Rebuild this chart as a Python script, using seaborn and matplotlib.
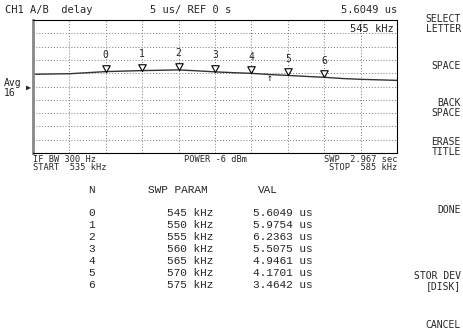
import numpy as np
import pandas as pd
import matplotlib
matplotlib.use("Agg")
import matplotlib.pyplot as plt
from matplotlib.path import Path as MPath
import seaborn as sns

# trace (kHz, us)
trace_freq = [535, 537.5, 540, 542.5, 545, 547.5, 550, 552.5, 555, 557.5, 560,
              562.5, 565, 567.5, 570, 572.5, 575, 577.5, 580, 582.5, 585]
trace_delay = [4.6, 4.7, 4.8, 5.2, 5.6, 5.8, 5.98, 6.1, 6.24, 5.9, 5.5,
               5.2, 4.95, 4.5, 4.17, 3.8, 3.46, 3.0, 2.7, 2.5, 2.3]

marker_ids = ["0", "1", "2", "3", "4", "5", "6"]
marker_freq = [545, 550, 555, 560, 565, 570, 575]
marker_delay = [5.6049, 5.9754, 6.2363, 5.5075, 4.9461, 4.1701, 3.4642]

softkeys = ["SELECT\nLETTER", "SPACE", "BACK\nSPACE", "ERASE\nTITLE", "DONE", "STOR DEV\n[DISK]", "CANCEL"]
softkey_y = [24, 66, 108, 147, 210, 281, 325]

W, H = 463, 335
MONO = "DejaVu Sans Mono"
TABLE = "Liberation Mono"


def px(x, y):
    return x / W, 1 - y / H


def main() -> None:
    sns.set_style("white")
    plt.rcParams["font.family"] = [MONO]

    fig = plt.figure(figsize=(W / 100, H / 100), dpi=100)
    ax = fig.add_axes([33 / W, 1 - 153 / H, 364 / W, 133 / H])

    df = pd.DataFrame({"freq": trace_freq, "delay": trace_delay})
    sns.lineplot(data=df, x="freq", y="delay", ax=ax, color="#333333", linewidth=1.0)

    # downward triangle with its tip on the data point
    tri = MPath([(0, 0), (-0.55, 1.0), (0.55, 1.0), (0, 0)], [1, 2, 2, 79])
    mk = pd.DataFrame({"freq": marker_freq, "delay": marker_delay})
    sns.scatterplot(data=mk, x="freq", y="delay", ax=ax, marker=tri, s=95,
                    facecolor="white", edgecolor="black", linewidth=0.8, zorder=5)
    for m, f, d in zip(marker_ids, marker_freq, marker_delay):
        ax.annotate(m, (f, d), xytext=(0, 12), textcoords="offset points",
                    ha="center", va="center", fontsize=7)
    ax.annotate("\u2191", (567.5, 3.2), ha="center", va="center", fontsize=7)

    ax.set_xlim(535, 585)
    ax.set_ylim(-25, 25)
    ax.set_xticks(np.arange(535, 586, 5))
    ax.set_yticks(np.arange(-25, 26, 5))
    ax.grid(True, color="#777777", linestyle=(0, (1, 2)), linewidth=0.7)
    ax.tick_params(length=0, labelbottom=False, labelleft=False)
    ax.set_xlabel("")
    ax.set_ylabel("")
    for s in ax.spines.values():
        s.set_color("black")
        s.set_linewidth(0.8)
    ax.spines["left"].set_color("#888888")
    ax.spines["left"].set_linewidth(2)
    ax.text(0.99, 0.93, "545 kHz", transform=ax.transAxes, ha="right", va="center", fontsize=7.5)

    def t(x, y, s, ha="left", size=7.5, family=MONO, **kw):
        fig.text(*px(x, y), s, ha=ha, va="center", fontsize=size, family=family, **kw)

    # header
    t(5, 10, "CH1 A/B  delay")
    t(150, 10, "5 us/ REF 0 s")
    t(397, 10, "5.6049 us", ha="right")

    # reference position
    t(4, 83, "Avg", size=7)
    t(4, 93, "16", size=7)
    t(26, 87, "\u25b6", size=6)

    # footer
    t(33, 159.5, "IF BW 300 Hz", size=6.2)
    t(33, 168, "START  535 kHz", size=6.2)
    t(215, 159.5, "POWER -6 dBm", ha="center", size=6.2)
    t(397, 159.5, "SWP  2.967 sec", ha="right", size=6.2)
    t(397, 168, "STOP  585 kHz", ha="right", size=6.2)

    # softkeys
    for label, y in zip(softkeys, softkey_y):
        fig.text(*px(461, y), label, ha="right", va="center", fontsize=7,
                 family=MONO, linespacing=0.95)

    # marker table
    t(88, 190, "N", size=8, family=TABLE)
    t(148, 190, "SWP PARAM", size=8, family=TABLE)
    t(258, 190, "VAL", size=8, family=TABLE)
    for i, (m, f, d) in enumerate(zip(marker_ids, marker_freq, marker_delay)):
        y = 213 + 12 * i
        t(88, y, m, size=8, family=TABLE)
        t(213, y, f"{f} kHz", ha="right", size=8, family=TABLE)
        t(313, y, f"{d:.4f} us", ha="right", size=8, family=TABLE)

    fig.savefig("out.png", dpi=100, facecolor="white")
    plt.close(fig)


if __name__ == "__main__":
    main()
